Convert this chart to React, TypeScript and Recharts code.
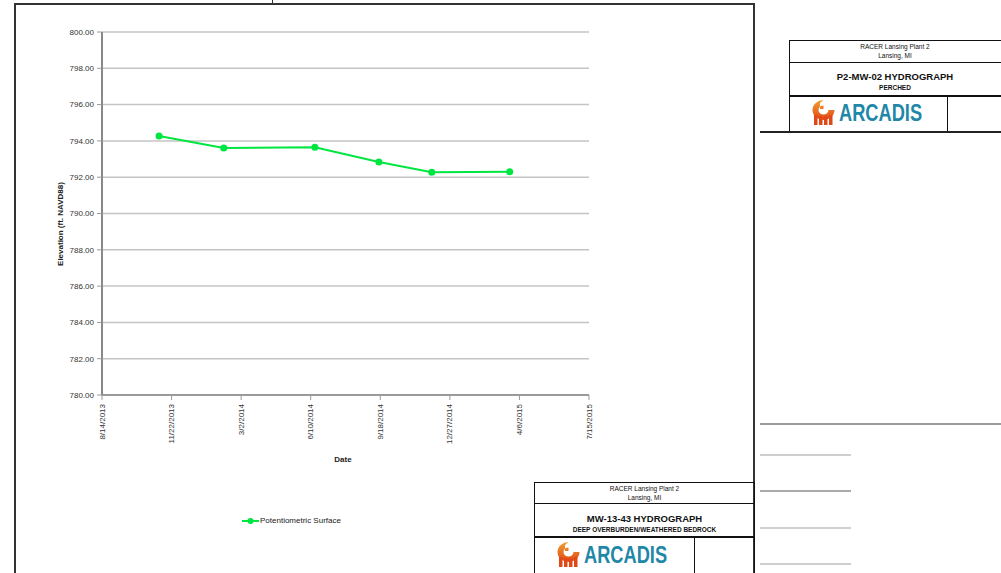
import React from 'react'
import { LineChart, Line, XAxis, YAxis, CartesianGrid, Legend } from 'recharts'

// sample dates and measured elevations (ft NAVD88)
const sampleDates = ['11/4/2013', '2/5/2014', '6/16/2014', '9/16/2014', '12/1/2014', '3/23/2015']
const elevations = [794.27, 793.61, 793.65, 792.84, 792.27, 792.3]

const dateTicks = ['8/14/2013', '11/22/2013', '3/2/2014', '6/10/2014', '9/18/2014', '12/27/2014', '4/6/2015', '7/15/2015']
const elevationTicks = [780, 782, 784, 786, 788, 790, 792, 794, 796, 798, 800]

const seriesName = 'Potentiometric Surface'
const green = '#00e640'
const font = '"Liberation Sans", Arial, sans-serif'

const toMs = (s: string) => {
  const [m, d, y] = s.split('/').map(Number)
  return Date.UTC(y, m - 1, d)
}

const tickMs = dateTicks.map(toMs)
const tickLabel: Record<number, string> = {}
tickMs.forEach((t, i) => {
  tickLabel[t] = dateTicks[i]
})

const data = sampleDates.map((d, i) => ({ t: toMs(d), elev: elevations[i] }))

const DateTick = (props: any) => {
  const { x, y, payload } = props
  return (
    <text
      transform={`translate(${x},${y + 2}) rotate(-90)`}
      textAnchor="end"
      dominantBaseline="central"
      fontSize={8}
      fill="#333"
      fontFamily={font}
    >
      {tickLabel[payload.value]}
    </text>
  )
}

const LegendBox = () => (
  <div style={{ display: 'flex', alignItems: 'center', fontFamily: font, fontSize: 8, color: '#222' }}>
    <svg width={17} height={8}>
      <line x1={0} y1={4} x2={17} y2={4} stroke={green} strokeWidth={2} />
      <circle cx={8.5} cy={4} r={3} fill={green} />
    </svg>
    <span style={{ marginLeft: 1 }}>{seriesName}</span>
  </div>
)

const Logo = ({ left, top }: { left: number; top: number }) => (
  <div style={{ position: 'absolute', left, top, display: 'flex', alignItems: 'center' }}>
    <svg width={25} height={27} viewBox="0 0 25 27">
      <defs>
        <linearGradient id={`lg${left}`} x1="0" y1="0" x2="0" y2="1">
          <stop offset="0" stopColor="#f0a030" />
          <stop offset="1" stopColor="#e04818" />
        </linearGradient>
      </defs>
      <path
        d="M12.5 1 A11 10 0 1 0 23.5 11 L17.5 11 A5 4.5 0 1 1 12.5 6.5 L12.5 10 L9 10 L9 4 Z"
        fill={`url(#lg${left})`}
      />
      <rect x={3} y={16} width={3.5} height={10} fill="#e04818" />
      <rect x={8} y={17} width={3.5} height={9} fill="#e04818" />
      <rect x={13} y={17} width={3.5} height={9} fill="#e04818" />
      <rect x={18} y={16} width={3.5} height={10} fill="#e04818" />
    </svg>
    <span
      style={{
        display: 'inline-block',
        fontFamily: font,
        fontWeight: 'bold',
        fontSize: 24,
        color: '#1f87a7',
        marginLeft: 3,
        lineHeight: '27px',
        transform: 'scaleX(0.76)',
        transformOrigin: 'left center',
      }}
    >
      ARCADIS
    </span>
  </div>
)

const cell: React.CSSProperties = {
  position: 'absolute',
  boxSizing: 'border-box',
  border: '1.5px solid #111',
  fontFamily: font,
  color: '#111',
  textAlign: 'center',
}

const abs = (l: number, t: number, w: number, h: number, extra: React.CSSProperties = {}): React.CSSProperties => ({
  position: 'absolute',
  left: l,
  top: t,
  width: w,
  height: h,
  ...extra,
})

export default function App() {
  return (
    <div style={abs(0, 0, 1001, 573, { background: '#fff', overflow: 'hidden' })}>
      {/* page frame */}
      <div style={abs(14, 3, 741, 620, { border: '2px solid #333', boxSizing: 'border-box' })} />
      <div style={abs(272, 0, 1, 3, { background: '#333' })} />

      <div style={abs(0, 0, 1001, 573)}>
        <LineChart
          width={1001}
          height={573}
          data={data}
          margin={{ top: 32, right: 412, left: 0, bottom: 103 }}
          style={{ fontFamily: font }}
        >
          <CartesianGrid vertical={false} stroke="#c4c4c4" strokeWidth={1.5} />
          <XAxis
            dataKey="t"
            type="number"
            domain={[tickMs[0], tickMs[tickMs.length - 1]]}
            ticks={tickMs}
            tick={<DateTick />}
            tickSize={5}
            tickLine={{ stroke: '#999' }}
            axisLine={{ stroke: '#999', strokeWidth: 2 }}
            height={75}
            interval={0}
            label={{
              content: () => (
                <text x={343} y={462} textAnchor="middle" fontSize={8} fontWeight="bold" fill="#222" fontFamily={font}>
                  Date
                </text>
              ),
            }}
          />
          <YAxis
            type="number"
            domain={[780, 800]}
            ticks={elevationTicks}
            interval={0}
            width={102}
            tickSize={5}
            tickMargin={3}
            tickFormatter={(v: number) => v.toFixed(2)}
            tick={{ fontSize: 8, fill: '#333', fontFamily: font }}
            tickLine={{ stroke: '#999' }}
            axisLine={{ stroke: '#888', strokeWidth: 2 }}
            label={{
              content: () => (
                <text
                  transform="translate(60,224) rotate(-90)"
                  textAnchor="middle"
                  dominantBaseline="central"
                  fontSize={8}
                  fontWeight="bold"
                  fill="#222"
                  fontFamily={font}
                >
                  Elevation (ft. NAVD88)
                </text>
              ),
            }}
          />
          <Legend
            layout="horizontal"
            verticalAlign="middle"
            align="center"
            content={() => <LegendBox />}
            wrapperStyle={{ position: 'absolute', left: 242, top: 516, width: 'auto' }}
          />
          <Line
            type="linear"
            dataKey="elev"
            name={seriesName}
            stroke={green}
            strokeWidth={2}
            dot={{ r: 3.5, fill: green, stroke: green, strokeWidth: 0 }}
            isAnimationActive={false}
          />
        </LineChart>
      </div>

      {/* right side title block */}
      <div style={{ ...cell, ...abs(789, 40, 222, 23) }}>
        <div style={{ fontSize: 6.5, lineHeight: '9px', marginTop: 1, paddingRight: 10 }}>
          RACER Lansing Plant 2
          <br />
          Lansing, MI
        </div>
      </div>
      <div style={{ ...cell, ...abs(789, 61.5, 222, 35) }}>
        <div style={{ fontSize: 9.5, fontWeight: 'bold', marginTop: 8, lineHeight: '11px', paddingRight: 10 }}>
          P2-MW-02 HYDROGRAPH
        </div>
        <div style={{ fontSize: 6.5, fontWeight: 'bold', marginTop: 2, lineHeight: '8px', paddingRight: 10 }}>PERCHED</div>
      </div>
      <div style={{ ...cell, ...abs(789, 95, 159, 38) }} />
      <div style={{ ...cell, ...abs(947, 95, 70, 38) }} />
      <Logo left={811} top={99} />
      <div style={abs(760, 131, 241, 2, { background: '#222' })} />

      <div style={abs(760, 423, 241, 2, { background: '#9a9a9a' })} />
      <div style={abs(760, 454, 91, 1.5, { background: '#cfcfcf' })} />
      <div style={abs(760, 490, 91, 1.5, { background: '#aaa' })} />
      <div style={abs(760, 527, 91, 1.5, { background: '#cfcfcf' })} />
      <div style={abs(760, 563, 91, 1.5, { background: '#cfcfcf' })} />

      {/* bottom title block */}
      <div style={{ ...cell, ...abs(534, 482, 221, 22) }}>
        <div style={{ fontSize: 6.5, lineHeight: '9px', marginTop: 1 }}>
          RACER Lansing Plant 2
          <br />
          Lansing, MI
        </div>
      </div>
      <div style={{ ...cell, ...abs(534, 502.5, 221, 35) }}>
        <div style={{ fontSize: 9.5, fontWeight: 'bold', marginTop: 9, lineHeight: '11px' }}>MW-13-43 HYDROGRAPH</div>
        <div style={{ fontSize: 6.5, fontWeight: 'bold', marginTop: 2, lineHeight: '8px' }}>
          DEEP OVERBURDEN/WEATHERED BEDROCK
        </div>
      </div>
      <div style={{ ...cell, ...abs(534, 536, 161, 50) }} />
      <div style={{ ...cell, ...abs(694, 536, 61, 50) }} />
      <Logo left={556} top={541} />
    </div>
  )
}
